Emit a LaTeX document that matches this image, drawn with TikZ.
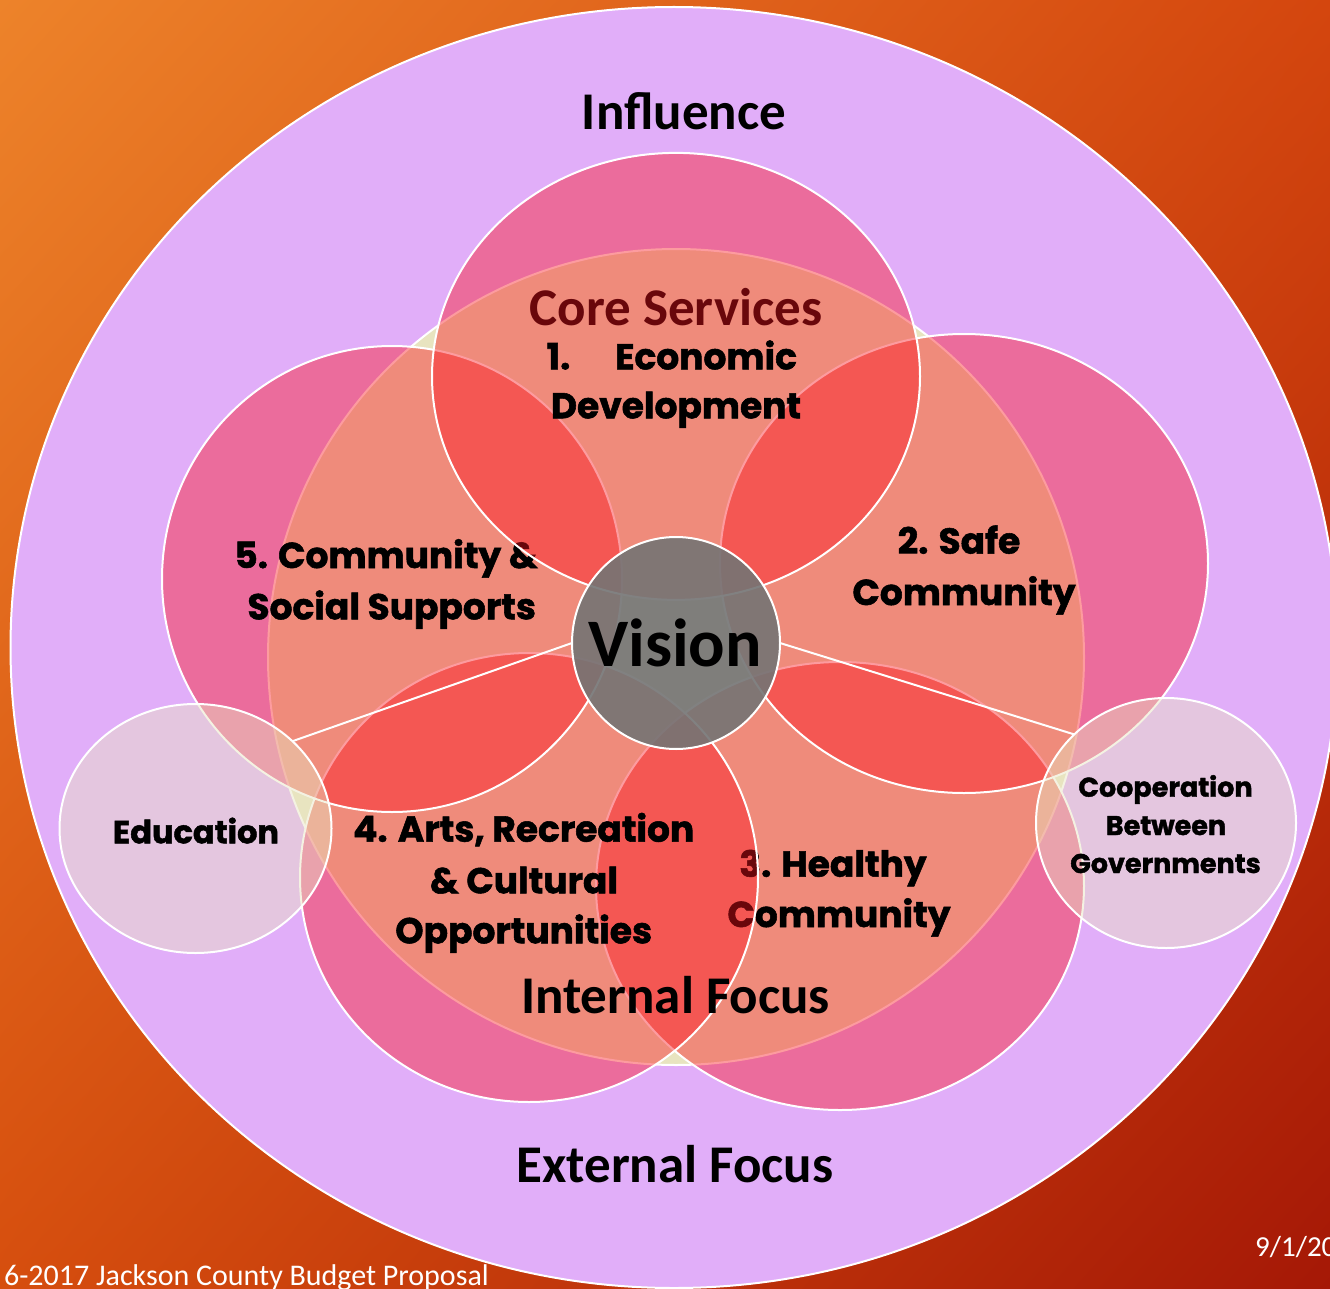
\documentclass[tikz,border=0pt]{standalone}
\usepackage{fontspec}
\usepackage{graphicx}
\setmainfont{Carlito}
\newfontfamily\petalfont{Poppins}
\usetikzlibrary{shapes.geometric,shadings}

\definecolor{lav}{RGB}{225,174,249}
\definecolor{paleyel}{RGB}{232,228,192}
\definecolor{petalred}{RGB}{251,17,28}
\definecolor{visgray}{RGB}{116,116,116}
\definecolor{bgTL}{RGB}{237,131,42}
\definecolor{bgTR}{RGB}{212,70,14}
\definecolor{bgBL}{RGB}{214,78,14}
\definecolor{bgBR}{RGB}{165,24,6}

\begin{document}
\begin{tikzpicture}[x=1pt,y=-1pt,
  outline/.style={draw=white, line width=2pt},
  ell/.style={ellipse, inner sep=0pt, outer sep=0pt},
  petal/.style={ell, outline, fill=petalred, fill opacity=0.42},
  bigtxt/.style={font=\fontsize{53}{60}\selectfont\bfseries, anchor=base, inner sep=0pt},
  ptxt/.style={font=\petalfont\bfseries\fontsize{36}{40}\selectfont\addfontfeature{FakeBold=1.5}, anchor=base, inner sep=0pt},
  edutxt/.style={font=\petalfont\bfseries\fontsize{32}{36}\selectfont\addfontfeature{FakeBold=1.5}, anchor=base, inner sep=0pt},
  smalltxt/.style={font=\petalfont\bfseries\fontsize{27}{30}\selectfont\addfontfeature{FakeBold=1.5}, anchor=base, inner sep=0pt},
  connector/.style={draw=white, line width=2pt},
  side/.style={ell, outline, fill=paleyel, fill opacity=0.45},
  foot/.style={text=white, inner sep=0pt}
]
\useasboundingbox (0,0) rectangle (1330,1289);
\shade[upper left=bgTL, upper right=bgTR, lower left=bgBL, lower right=bgBR] (0,0) rectangle (1330,1289);

% outer ellipse
\node[ell, outline, fill=lav, minimum width=1327pt, minimum height=1281pt] (outer) at (674,647.5) {};
\node[bigtxt] (influence) at (684,129.3) {Influence};
\node[bigtxt] (external) at (675,1182.3) {External Focus};

% inner circle
\node[ell, outline, fill=paleyel, minimum width=816pt, minimum height=816pt] (core) at (676,657) {};
\node[bigtxt] (coretxt) at (676,325) {Core Services};

% petal 3
\node[petal, minimum width=488pt, minimum height=448pt] (p3) at (840,886) {};
\node[ptxt] (t3a) at (833,876.7) {3. Healthy};
\node[ptxt] (t3b) at (839,927) {Community};
% petal 4
\node[petal, minimum width=458pt, minimum height=449pt] (p4) at (529,877.5) {};
\node[ptxt] (t4a) at (523.7,841.7) {4. Arts, Recreation};
\node[ptxt] (t4b) at (524,893.3) {\& Cultural};
\node[ptxt] (t4c) at (523.7,943.3) {Opportunities};
% petal 5
\node[petal, minimum width=460pt, minimum height=466pt] (p5) at (392,579) {};
\node[ptxt] (t5a) at (386,568) {5. Community \&};
\node[ptxt] (t5b) at (391.7,619.3) {Social Supports};
% petal 2
\node[petal, minimum width=488pt, minimum height=459pt] (p2) at (964,563.5) {};
\node[ptxt] (t2a) at (959,553.6) {2. Safe};
\node[ptxt] (t2b) at (964,605) {Community};
% petal 1
\node[petal, minimum width=488pt, minimum height=447pt] (p1) at (676,376.4) {};
\node[ptxt] (t1a) at (558.5,369.3) {1.};
\node[ptxt] (t1b) at (706,369.3) {Economic};
\node[ptxt] (t1c) at (676,418.3) {Development};

% vision
\node[ell, outline, fill=visgray, fill opacity=0.9, minimum width=208pt, minimum height=212pt] (vision) at (676,643) {};
\node[font=\fontsize{68}{72}\selectfont\bfseries, anchor=base, inner sep=0pt] (vtxt) at (675,666.7) {Vision};

\node[bigtxt] (internal) at (675.5,1013.3) {Internal Focus};

% side circles
\node[side, minimum width=272pt, minimum height=249pt] (edu) at (195.5,828.5) {};
\node[side, minimum width=260pt, minimum height=250pt] (coop) at (1166,823) {};
\draw[connector] (vision.west) -- (edu.42);
\draw[connector] (vision.east) -- (coop.136.6);

\node[edutxt] (edulbl) at (196,843.3) {Education};
\node[smalltxt] (c1) at (1165.5,796.7) {Cooperation};
\node[smalltxt] (c2) at (1166,835) {Between};
\node[smalltxt] (c3) at (1165.5,873) {Governments};

% footer
\node[foot, anchor=base east, font=\fontsize{30}{32}\selectfont] (footl) at (489,1285) {6-2017 Jackson County Budget Proposal};
\node[foot, anchor=base west, font=\fontsize{29}{30}\selectfont] (footr) at (1255,1256.7) {9/1/20};
\end{tikzpicture}
\end{document}
